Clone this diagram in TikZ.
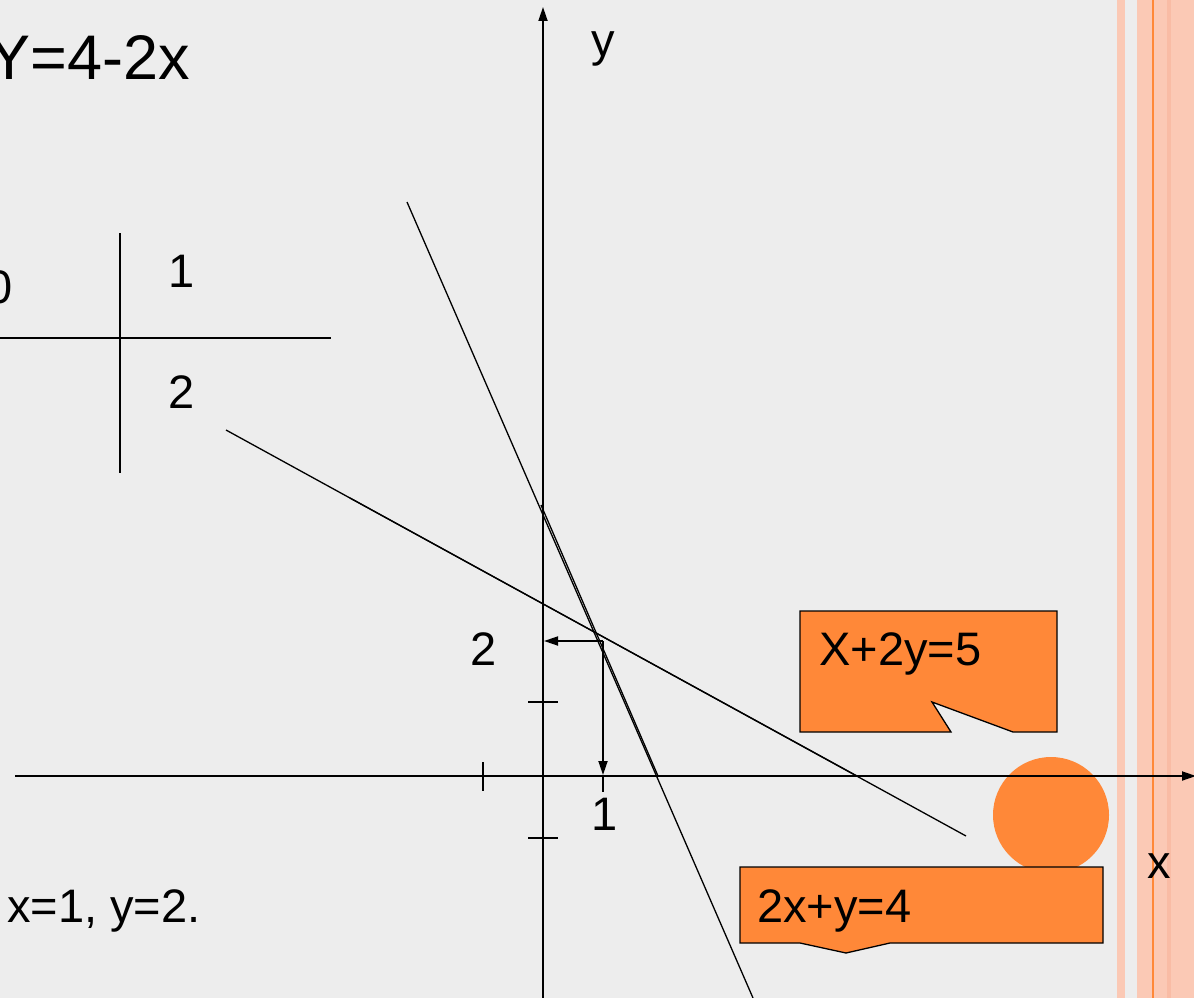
\documentclass[tikz,border=0pt]{standalone}
\usepackage{fontspec}
\setmainfont{Liberation Sans}
\usetikzlibrary{arrows.meta}
\definecolor{bg}{HTML}{EDEDED}
\definecolor{peach}{HTML}{FBC9B5}
\definecolor{peachdark}{HTML}{F9BCA5}
\definecolor{orangeC}{HTML}{FF8838}
\begin{document}
\begin{tikzpicture}[x=1pt,y=-1pt,
  every node/.style={inner sep=0pt, font=\fontsize{47}{56}\selectfont},
  lbl/.style={anchor=base west},
  thinline/.style={line width=1.3pt},
  axis/.style={line width=1.8pt},
  tip/.style={-{Triangle[length=14pt,width=9pt]}},
  callout/.style={fill=orangeC, draw=black, line width=1.3pt, line join=miter}]
\useasboundingbox (0,0) rectangle (1194,998);
\clip (0,0) rectangle (1194,998);
\fill[bg] (0,0) rectangle (1194,998);
% right stripes
\fill[peach] (1117,0) rectangle (1125,998);
\fill[peach] (1137,0) rectangle (1194,998);
\fill[peachdark] (1167,0) rectangle (1171,998);
\fill[orangeC] (1151.7,0) rectangle (1153.7,998);
% circle
\fill[orangeC] (1051,815) circle (58);
% callouts
\draw[callout] (800,611) -- (1057,611) -- (1057,732) -- (1013,732) -- (932,702) -- (951,732) -- (800,732) -- cycle;
\draw[callout] (740,867) -- (1103,867) -- (1103,943) -- (890,943) -- (846,953) -- (800,943) -- (740,943) -- cycle;
\node[lbl] (c1txt) at (819,665) {X+2y=5};
\node[lbl] (c2txt) at (757,922) {2x+y=4};
% axes
\coordinate (xs) at (15,776); \coordinate (xe) at (1196,776);
\coordinate (ys) at (543,998); \coordinate (ye) at (543,7);
\draw[axis,tip] (xs) -- (xe);
\draw[axis,tip] (ys) -- (ye);
% ticks
\coordinate (tx1a) at (483,762); \coordinate (tx1b) at (483,791);
\coordinate (tx2a) at (603,776); \coordinate (tx2b) at (603,792);
\coordinate (ty1a) at (528,702); \coordinate (ty1b) at (558,702);
\coordinate (ty2a) at (528,838); \coordinate (ty2b) at (558,838);
\draw[axis] (tx1a) -- (tx1b);
\draw[axis] (tx2a) -- (tx2b);
\draw[thinline] (ty1a) -- (ty1b);
\draw[thinline] (ty2a) -- (ty2b);
% lines
\coordinate (a1) at (407,202); \coordinate (a2) at (753,998);
\coordinate (b1) at (541,505); \coordinate (b2) at (658,776);
\coordinate (c1) at (226,430); \coordinate (c2) at (966,836);
\coordinate (d1) at (350,498); \coordinate (d2) at (857,776);
\draw[thinline] (a1) -- (a2);
\draw[thinline] (b1) -- (b2);
\draw[thinline] (c1) -- (c2);
\draw[thinline] (d1) -- (d2);
% projections
\coordinate (P) at (603,641);
\coordinate (Py) at (544,641);
\coordinate (Px) at (603,775);
\draw[axis,tip] (P) -- (Py);
\draw[axis,tip] (P) -- (Px);
% table
\coordinate (tv1) at (120,233); \coordinate (tv2) at (120,473);
\coordinate (th1) at (0,338); \coordinate (th2) at (331,338);
\draw[axis] (tv1) -- (tv2);
\draw[axis] (th1) -- (th2);
% labels
\node[lbl, font=\fontsize{63}{70}\selectfont] (title) at (-12,79) {Y=4-2x};
\node[lbl] (t0) at (-14,303) {0};
\node[lbl] (t1) at (168,287) {1};
\node[lbl] (t2) at (168,408) {2};
\node[lbl] (ylab) at (591,57) {y};
\node[lbl] (xlab) at (1147,878) {x};
\node[lbl] (one) at (591,830) {1};
\node[lbl] (two) at (470,665) {2};
\node[lbl] (sol) at (7,922) {x=1, y=2.};
\end{tikzpicture}
\end{document}
